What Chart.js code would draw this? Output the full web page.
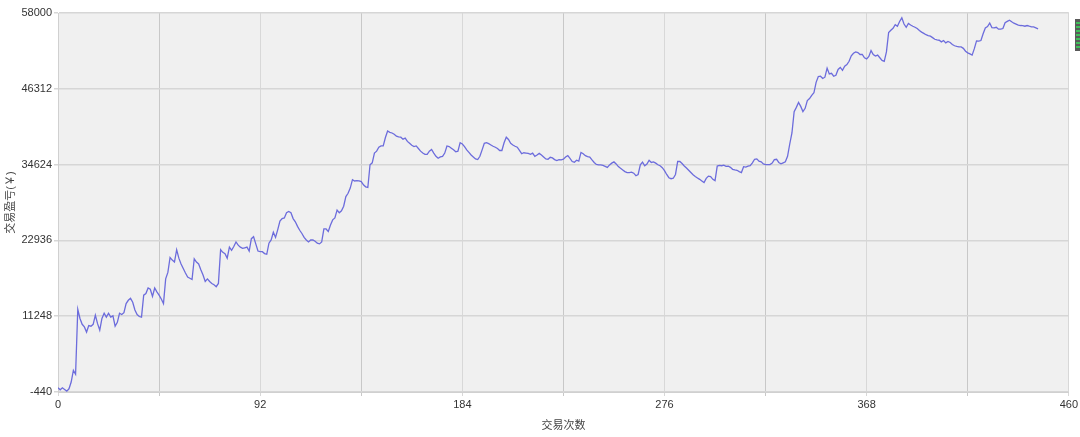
<!DOCTYPE html>
<html>
<head>
<meta charset="utf-8">
<script src="https://cdn.jsdelivr.net/npm/chart.js@4.4.0/dist/chart.umd.min.js"></script>
<style>
html, body { margin: 0; padding: 0; background: #fff; }
</style>
</head>
<body>
<canvas id="equity-chart" width="1080" height="437"></canvas>
<script>

// cumulative profit after each trade
var equity = [
  200, -100, 200, -50, -300, 50, 1100, 2900, 2300, 12300,
  10900, 10000, 9600, 8800, 9800, 9700, 10000, 11400, 10100, 9100,
  10900, 11700, 11100, 11700, 11100, 11300, 9700, 10300, 11700, 11500,
  11800, 13200, 13700, 14000, 13400, 12200, 11500, 11200, 11100, 14500,
  14750, 15600, 15400, 14300, 15600, 15000, 14500, 13900, 13200, 17000,
  18000, 20300, 19900, 19600, 21500, 20200, 19300, 18600, 17900, 17300,
  17100, 16900, 20100, 19600, 19300, 18400, 17600, 16600, 17000, 16600,
  16300, 16100, 15800, 16300, 21500, 21100, 20900, 20200, 21900, 21400,
  22000, 22700, 22200, 21900, 21700, 21800, 21900, 21300, 23200, 23500,
  22400, 21300, 21200, 21200, 20900, 20800, 22500, 23000, 24200, 23400,
  24600, 25900, 26300, 26400, 27200, 27400, 27200, 26300, 25800, 25100,
  24500, 24000, 23400, 23000, 22700, 23000, 23000, 22800, 22500, 22400,
  22700, 24700, 24700, 24300, 25300, 26100, 26400, 27600, 27200, 27500,
  28200, 29700, 30200, 31000, 32300, 32100, 32150, 32100, 32000, 31500,
  31200, 31100, 34600, 34900, 36400, 36700, 37300, 37500, 37500, 38800,
  39800, 39600, 39500, 39300, 39000, 38900, 38850, 38550, 38700, 38200,
  37900, 37600, 37400, 37500, 37100, 36700, 36400, 36200, 36200, 36700,
  36950, 36400, 35900, 35600, 35800, 35900, 36400, 37500, 37400, 37150,
  36900, 36600, 36700, 38000, 37800, 37400, 36900, 36500, 36100, 35800,
  35500, 35400, 35900, 36900, 37900, 38000, 37850, 37650, 37450, 37300,
  37100, 36800, 36800, 38000, 38850, 38500, 37900, 37650, 37450, 37300,
  36800, 36300, 36450, 36400, 36350, 36200, 36400, 35900, 36100, 36350,
  36100, 35800, 35500, 35450, 35750, 35650, 35400, 35250, 35380, 35350,
  35460, 35800, 36000, 35600, 35100, 35000, 35300, 35150, 36500, 36300,
  36000, 35850, 35780, 35350, 34950, 34650, 34580, 34580, 34500, 34350,
  34200, 34580, 34850, 35040, 34730, 34320, 34050, 33800, 33550, 33390,
  33400, 33450, 33300, 32900, 33100, 34600, 35000, 34450, 34700, 35300,
  34950, 35050, 34850, 34600, 34450, 34150, 33700, 33100, 32600, 32450,
  32520, 33100, 35100, 35100, 34800, 34420, 34100, 33750, 33400, 33050,
  32800, 32570, 32350, 32100, 31850, 32500, 32850, 32780, 32350, 32150,
  34400, 34500, 34450, 34550, 34350, 34400, 34200, 33900, 33800, 33750,
  33550, 33400, 34300, 34250, 34400, 34450, 34900, 35450, 35500, 35150,
  35050, 34730, 34630, 34630, 34630, 34850, 35400, 35450, 34950, 34750,
  34900, 35050, 35900, 37800, 39500, 42800, 43450, 44200, 43600, 42800,
  43300, 44500, 44800, 45300, 45700, 47300, 48200, 48250, 47900, 48100,
  49500, 48600, 48700, 48250, 48400, 49300, 49600, 49150, 49800, 50040,
  50550, 51400, 51800, 52000, 51900, 51600, 51600, 51100, 50920, 51300,
  52200, 51600, 51350, 51500, 51100, 50700, 50550, 52000, 55000, 55340,
  55650, 56200, 55960, 56700, 57260, 56300, 55800, 56400, 56150, 55950,
  55800, 55600, 55300, 55050, 54850, 54650, 54520, 54420, 54200, 53950,
  53850, 53800, 53550, 53750, 53400, 53620, 53450, 53150, 52950, 52850,
  52770, 52770, 52550, 52100, 51850, 51700, 51500, 52500, 53700, 53650,
  53750, 54800, 55700, 55900, 56450, 55750, 55700, 55800, 55500, 55500,
  55600, 56500, 56700, 56890, 56650, 56430, 56280, 56130, 56070, 56050,
  55960, 56070, 55960, 55870, 55850, 55710, 55560
];

var yTicks = [-440, 11248, 22936, 34624, 46312, 58000];
var xTicks = [0, 46, 92, 138, 184, 230, 276, 322, 368, 414, 460];
var xLabels = [0, 92, 184, 276, 368, 460];

var FONT = '"Liberation Sans", "Noto Sans CJK SC", Arial, sans-serif';

// grey plot area + the little cut-off widget at the top right
var plotBg = {
  id: 'plotBg',
  beforeDraw: function(chart) {
    var a = chart.chartArea, ctx = chart.ctx;
    ctx.save();
    ctx.fillStyle = '#f0f0f0';
    ctx.fillRect(a.left, a.top, a.right - a.left, a.bottom - a.top);
    ctx.fillStyle = '#5a5a5a';
    ctx.fillRect(chart.width - 5, 19, 5, 32);
    ctx.fillStyle = '#3fbf5a';
    for (var i = 0; i < 7; i++) ctx.fillRect(chart.width - 4, 22 + i * 4, 4, 2);
    ctx.restore();
  }
};

new Chart(document.getElementById("equity-chart"), {
  type: 'line',
  data: {
    datasets: [{
      label: '交易盈亏',
      data: equity.map(function(v, i) { return { x: i, y: v }; }),
      borderColor: '#6c6cdc',
      borderWidth: 1.3,
      pointRadius: 0,
      fill: false,
      tension: 0
    }]
  },
  options: {
    responsive: false,
    animation: false,
    layout: { padding: { top: 13, right: 10, left: 0, bottom: 0 } },
    plugins: {
      legend: { display: false },
      tooltip: { enabled: false }
    },
    scales: {
      x: {
        type: 'linear',
        min: 0,
        max: 460,
        afterBuildTicks: function(s) { s.ticks = xTicks.map(function(v) { return { value: v }; }); },
        afterFit: function(s) { s.height = 45; },
        ticks: {
          autoSkip: false,
          maxRotation: 0,
          padding: 2,
          color: '#333',
          font: { family: FONT, size: 11 },
          callback: function(v) { return xLabels.indexOf(v) >= 0 ? String(v) : ''; }
        },
        grid: {
          tickLength: 4,
          color: function(c) { return (c.tick && c.tick.value % 92 === 0) ? '#d8d8d8' : '#c8c8c8'; }
        },
        border: { color: '#d0d0d0' },
        title: {
          display: true,
          text: '交易次数',
          color: '#444',
          font: { family: FONT, size: 11 },
          padding: { top: 4, bottom: 4 }
        }
      },
      y: {
        min: -440,
        max: 58000,
        afterBuildTicks: function(s) { s.ticks = yTicks.map(function(v) { return { value: v }; }); },
        afterFit: function(s) { s.width = 58; },
        ticks: {
          padding: 2,
          color: '#333',
          font: { family: FONT, size: 11 },
          callback: function(v) { return String(v); }
        },
        grid: { tickLength: 4, color: '#d6d6d6', lineWidth: 1.5 },
        border: { color: '#d0d0d0' },
        title: {
          display: true,
          text: '交易盈亏(￥)',
          color: '#444',
          font: { family: FONT, size: 11 },
          padding: { top: 4, bottom: 4 }
        }
      }
    }
  },
  plugins: [plotBg]
});

</script>
</body>
</html>
